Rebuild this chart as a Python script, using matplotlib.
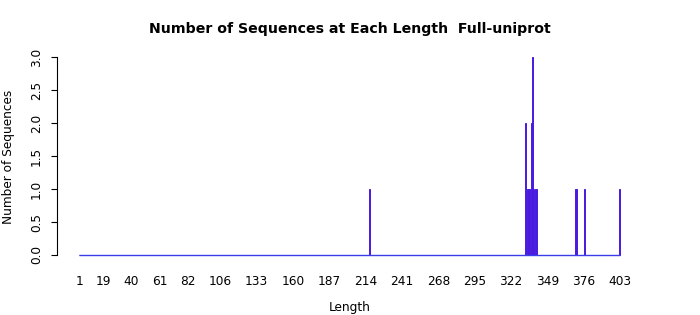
import numpy as np
import matplotlib.pyplot as plt

lengths = [217, 333, 334, 335, 336, 337, 338, 339, 340, 341, 370, 371, 377, 403]
counts = [1, 2, 1, 1, 1, 2, 3, 1, 1, 1, 1, 1, 1, 1]
tick_labels = [1, 19, 40, 61, 82, 106, 133, 160, 187, 214, 241, 268, 295, 322, 349, 376, 403]

# every length from 1 to 403 gets a bar, zero ones show up as the baseline
all_len = np.arange(1, 404)
all_cnt = np.zeros(len(all_len))
for l, c in zip(lengths, counts):
    all_cnt[l - 1] = c

fig = plt.figure(figsize=(7, 3.15), dpi=100)
ax = fig.add_axes([57/700, (315-258)/315, (642-57)/700, 201/315])

ax.bar(all_len, all_cnt, width=0.8, color='#2812f0', edgecolor='#4a1ce0',
       linewidth=0.7)
ax.plot([0.6, 403.4], [0, 0], color='#3c3ce8', lw=1.0, solid_capstyle='butt')

ax.set_xlim(-15.4, 419.4)
ax.set_ylim(-3/198*3, 3)

for s in ['top', 'right', 'bottom']:
    ax.spines[s].set_visible(False)
ax.spines['left'].set_bounds(0, 3)
ax.spines['left'].set_linewidth(0.8)

ax.set_yticks(np.arange(0, 3.01, 0.5))
ax.set_yticklabels(['%.1f' % v for v in np.arange(0, 3.01, 0.5)],
                   rotation=90, va='center', fontsize=8.7)
ax.tick_params(axis='y', length=4, width=0.8, pad=6)

ax.set_xticks(tick_labels)
ax.set_xticklabels([str(t) for t in tick_labels], fontsize=8.7)
ax.tick_params(axis='x', length=0, pad=12)

fig.text(350/700, 1 - 307/315, 'Length', ha='center', va='center', fontsize=8.7)
fig.text(9/700, 1 - 157/315, 'Number of Sequences', rotation=90,
         ha='center', va='center', fontsize=8.7)
fig.text(350/700, 1 - 29/315, 'Number of Sequences at Each Length  Full-uniprot',
         ha='center', va='center', fontsize=10.2, fontweight='bold')

fig.savefig('out.png', dpi=100)
